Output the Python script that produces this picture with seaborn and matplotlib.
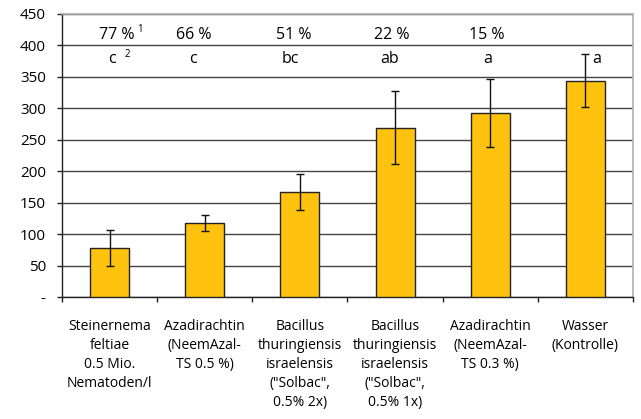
import matplotlib
matplotlib.use("Agg")
import matplotlib.pyplot as plt
import seaborn as sns
import pandas as pd
import numpy as np
from matplotlib.ticker import FixedLocator

categories = [
    "Steinernema\nfeltiae\n0.5 Mio.\nNematoden/l",
    "Azadirachtin\n(NeemAzal-\nTS 0.5 %)",
    "Bacillus\nthuringiensis\nisraelensis\n(\"Solbac\",\n0.5% 2x)",
    "Bacillus\nthuringiensis\nisraelensis\n(\"Solbac\",\n0.5% 1x)",
    "Azadirachtin\n(NeemAzal-\nTS 0.3 %)",
    "Wasser\n(Kontrolle)",
]
means = [78, 118, 167, 269, 293, 344]
errors = [28, 13, 29, 58, 54, 42]
efficacy = ["77 %", "66 %", "51 %", "22 %", "15 %", ""]
letters = ["c", "c", "bc", "ab", "a", "a"]
yticks = [0, 50, 100, 150, 200, 250, 300, 350, 400, 450]
ytick_labels = ["-", "50", "100", "150", "200", "250", "300", "350", "400", "450"]

sns.set_theme(style="white")
plt.rcParams["font.family"] = ["Open Sans", "DejaVu Sans"]
plt.rcParams["text.color"] = "black"
plt.rcParams["xtick.color"] = "black"
plt.rcParams["ytick.color"] = "black"

df = pd.DataFrame({"cat": categories, "mean": means, "err": errors})

fig = plt.figure(figsize=(6.41, 4.19), dpi=100)
ax = fig.add_axes([0.0967, 0.2912, 0.8908, 0.6754])

sns.barplot(data=df, x="cat", y="mean", ax=ax, color="#FFC20E",
            saturation=1, width=0.41, edgecolor="#222222", linewidth=1.0,
            errorbar=None, zorder=3)
xs = np.arange(len(categories))
ax.errorbar(xs, df["mean"], yerr=df["err"], fmt="none", ecolor="#111111",
            elinewidth=1.0, capsize=2.9, capthick=1.0, zorder=4)

ax.set_ylim(0, 450)
ax.set_xlim(-0.5, len(categories) - 0.5)
ax.set_yticks(yticks)
ax.set_yticklabels(ytick_labels, fontsize=11, color="black")
ax.set_xlabel("")
ax.set_ylabel("")
ax.set_xticks(xs)
ax.set_xticklabels(categories, fontsize=10, linespacing=1.36, va="top", color="black")
ax.tick_params(axis="x", which="major", length=0, pad=16)
ax.xaxis.set_minor_locator(FixedLocator(np.arange(-0.5, len(categories), 1.0)))
ax.tick_params(axis="x", which="minor", length=3.6, width=1, color="#222222", direction="out", bottom=True)
ax.tick_params(axis="y", which="major", length=3.6, width=1, color="#222222", direction="out", left=True, pad=8)

ax.grid(axis="y", color="#444444", linewidth=1.0, zorder=0)
ax.grid(axis="x", visible=False)
ax.set_axisbelow(True)

for s in ["left", "bottom"]:
    ax.spines[s].set_color("#222222")
    ax.spines[s].set_linewidth(1.0)
ax.spines["right"].set_color("#b0b0b0")
ax.spines["top"].set_color("#b0b0b0")
ax.spines["right"].set_linewidth(1.2)
ax.spines["top"].set_linewidth(1.2)

pct_offsets = [0.08, -0.12, -0.06, -0.04, -0.04, 0.0]
let_offsets = [0.02, -0.12, -0.10, -0.06, -0.03, 0.12]
for i in range(len(categories)):
    if efficacy[i]:
        ax.text(xs[i] + pct_offsets[i], 417, efficacy[i], ha="center", va="center",
                fontsize=11.5, color="black", zorder=5)
    ax.text(xs[i] + let_offsets[i], 378, letters[i], ha="center", va="center",
            fontsize=11.5, color="black", zorder=5)

ax.text(xs[0] + 0.32, 426, "1", ha="center", va="center", fontsize=7, color="black", zorder=5)
ax.text(xs[0] + 0.19, 385, "2", ha="center", va="center", fontsize=7, color="black", zorder=5)

fig.savefig("out.png", dpi=100)
